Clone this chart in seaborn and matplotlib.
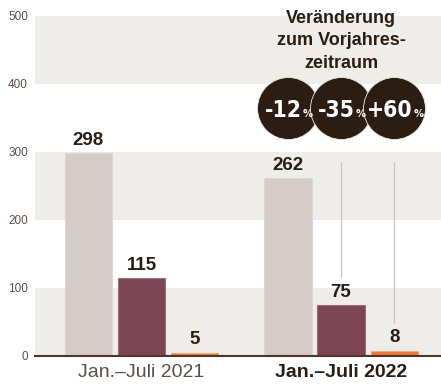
import os
import matplotlib
matplotlib.use("Agg")
import matplotlib.pyplot as plt
from matplotlib import font_manager as fm
from matplotlib.transforms import IdentityTransform
import pandas as pd
import seaborn as sns

# ---- data ----
periods = ["Jan.–Juli 2021", "Jan.–Juli 2022"]
series = ["Reihe A", "Reihe B", "Reihe C"]
values_2021 = [298, 115, 5]
values_2022 = [262, 75, 8]
changes = ["-12", "-35", "+60"]
yticks = [0, 100, 200, 300, 400, 500]
title_lines = ["Veränderung", "zum Vorjahres-", "zeitraum"]

df = pd.DataFrame({
    "period": [p for p in periods for _ in series],
    "series": series * 2,
    "value": values_2021 + values_2022,
})

bar_colors = ["#d5ccc7", "#7d4553", "#ef773a"]
edge_colors = ["#ddd6d1", "#9c6d78", "#f5a67c"]
band = "#efede9"
dark = "#2b1d12"

sns.set_theme(style="white")
plt.rcParams["font.family"] = ["Liberation Sans", "DejaVu Sans"]


def find_condensed():
    prefs = ["extracondensedblack", "extracondensedextrabold", "extracondensedbold",
             "condensedblack", "condensedextrabold", "condensedbold",
             "narrow-bold", "narrowbold", "condensed-bold"]
    prefixes = ("notosans-", "opensans", "roboto", "inter", "dejavusans",
                "liberationsans", "lato")
    files = set(f.fname for f in fm.fontManager.ttflist)
    try:
        files |= set(fm.findSystemFonts())
    except Exception:
        pass
    files = sorted(files)
    for p in prefs:
        for f in files:
            b = os.path.basename(f).lower()
            if not b.endswith((".ttf", ".otf")) or "italic" in b:
                continue
            if not b.startswith(prefixes):
                continue
            if p in b.replace("_", ""):
                return f
    return None


cf = find_condensed()


def big_props(size):
    if cf:
        return fm.FontProperties(fname=cf, size=size)
    return fm.FontProperties(family="DejaVu Sans", weight="bold", size=size)


fig = plt.figure(figsize=(4.41, 3.85), dpi=100)
ax = fig.add_axes([35 / 441, 29 / 385, 406 / 441, 340 / 385])

for lo in (0, 200, 400):
    ax.axhspan(lo, lo + 100, color=band, zorder=0, lw=0)

sns.barplot(data=df, x="period", y="value", hue="series", hue_order=series,
            order=periods, palette=bar_colors, saturation=1, width=0.8,
            gap=0.11, legend=False, ax=ax, zorder=2)

for i, cont in enumerate(ax.containers):
    for b in cont:
        b.set_edgecolor(edge_colors[i])
        b.set_linewidth(0.8)
    ax.bar_label(cont, padding=3, fontsize=13.5, fontweight="bold", color=dark)

ax.set_ylim(0, 500)
ax.set_xlim(-0.534, 1.501)
ax.set_yticks(yticks)
ax.set_yticklabels([str(t) for t in yticks], fontsize=8.5, color="#5a5048")
ax.tick_params(axis="y", length=0, pad=5)
ax.tick_params(axis="x", length=0, pad=6, labelsize=14)
xl = ax.get_xticklabels()
xl[0].set_color("#5a5048")
xl[1].set_color(dark)
xl[1].set_fontweight("bold")
ax.set_xlabel("")
ax.set_ylabel("")
for s in ("left", "right", "top"):
    ax.spines[s].set_visible(False)
ax.spines["bottom"].set_color("#4a3728")
ax.spines["bottom"].set_linewidth(1.5)
ax.spines["bottom"].set_zorder(5)

# circles with changes above 2022 bars
circle_y = 364
centers = []
for i, cont in enumerate(ax.containers):
    b = cont[1]
    centers.append(b.get_x() + b.get_width() / 2)

for i, cx in enumerate(centers):
    ax.scatter([cx], [circle_y], s=1990, color=dark, edgecolors="#efe9e2",
               linewidths=0.6, zorder=6 + i, clip_on=False)

# connector lines
vals22 = values_2022
for i in (1, 2):
    ax.plot([centers[i], centers[i]], [285, vals22[i] + 41], color="#c9c5c2",
            lw=0.9, zorder=3)

# title
for line, yv in zip(title_lines, [497, 464, 430.5]):
    ax.text(centers[1], yv, line, ha="center", va="center", fontsize=13,
            fontweight="bold", color=dark, zorder=10, clip_on=False)

# change labels inside circles (pixel placement, one common size)
fig.canvas.draw()
renderer = fig.canvas.get_renderer()
ref_size = 20.0
gap_px = 1.0
items = []
widest = 0
for i, cx in enumerate(centers):
    t = fig.text(0, 0, changes[i], fontproperties=big_props(ref_size), color="white",
                 ha="left", va="baseline", transform=IdentityTransform(), zorder=20)
    p = fig.text(0, 0, "%", fontproperties=big_props(ref_size * 0.42), color="white",
                 ha="left", va="baseline", transform=IdentityTransform(), zorder=20)
    tot = (t.get_window_extent(renderer).width + gap_px
           + p.get_window_extent(renderer).width)
    widest = max(widest, tot)
    items.append((t, p))

size = min(28.0, ref_size * 55.0 / widest)
for i, (t, p) in enumerate(items):
    t.set_fontproperties(big_props(size))
    p.set_fontproperties(big_props(max(size * 0.42, 8)))
    xd, yd = ax.transData.transform((centers[i], circle_y))
    w = t.get_window_extent(renderer).width
    pw = p.get_window_extent(renderer).width
    total = w + gap_px + pw
    left = xd + 1 - total / 2
    base = yd - size / 72 * 100 * 0.36
    t.set_position((left, base))
    p.set_position((left + w + gap_px, base))

fig.savefig("out.png", dpi=100)
